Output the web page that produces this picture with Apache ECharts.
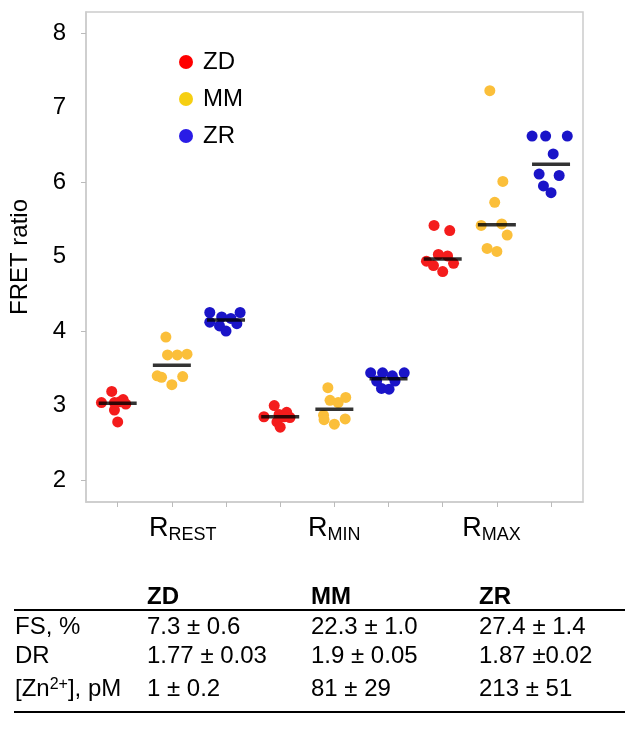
<!DOCTYPE html>
<html>
<head>
<meta charset="utf-8">
<script src="https://cdn.jsdelivr.net/npm/echarts@6/dist/echarts.min.js"></script>
<style>html,body{margin:0;padding:0;background:#fff}#c{width:638px;height:749px}</style>
</head>
<body>
<div id="c"></div>
<script>
// ---- data ----
const seriesNames = ['ZD', 'MM', 'ZR'];
const conditions = ['REST', 'MIN', 'MAX'];
const conditionLabelAt = [1.2, 4, 6.9];
const yTicks = [2, 3, 4, 5, 6, 7, 8];

// values per condition (REST, MIN, MAX) and horizontal jitter (in slot units)
const zdRest = [3.04, 3.19, 3.04, 3.08, 3.02, 2.94, 2.78, 3.05];
const zdRestJit = [-0.30, -0.11, -0.06, 0.10, 0.15, -0.06, 0, 0.04];
const zdMin = [2.85, 3.00, 2.88, 2.91, 2.84, 2.78, 2.71, 2.85];
const zdMinJit = [-0.30, -0.11, -0.02, 0.12, 0.18, -0.06, 0, 0.07];
const zdMax = [5.42, 5.35, 5.03, 5.01, 4.94, 4.88, 4.91, 4.80];
const zdMaxJit = [-0.16, 0.13, -0.08, 0.09, -0.30, -0.17, 0.20, 0];

const mmRest = [3.92, 3.68, 3.68, 3.69, 3.40, 3.38, 3.28, 3.39];
const mmRestJit = [-0.11, -0.08, 0.10, 0.28, -0.27, -0.19, 0, 0.20];
const mmMin = [3.24, 3.07, 3.04, 3.11, 2.87, 2.81, 2.75, 2.82];
const mmMinJit = [-0.12, -0.08, 0.07, 0.21, -0.20, -0.19, 0, 0.20];
const mmMax = [7.23, 6.01, 5.73, 5.42, 5.44, 5.29, 5.11, 5.07];
const mmMaxJit = [-0.13, 0.11, -0.04, -0.29, 0.09, 0.19, -0.18, 0];

const zrRest = [4.25, 4.19, 4.17, 4.25, 4.12, 4.07, 4.10, 4.00];
const zrRestJit = [-0.30, -0.08, 0.09, 0.26, -0.30, -0.12, 0.20, 0];
const zrMin = [3.44, 3.44, 3.40, 3.44, 3.33, 3.33, 3.23, 3.22];
const zrMinJit = [-0.33, -0.11, 0.07, 0.29, -0.22, 0.12, -0.13, 0.01];
const zrMax = [6.62, 6.62, 6.62, 6.38, 6.11, 6.09, 5.95, 5.86];
const zrMaxJit = [-0.35, -0.10, 0.30, 0.04, -0.22, 0.15, -0.14, 0];

// median lines (REST, MIN, MAX)
const zdMedian = [3.03, 2.85, 4.97];
const mmMedian = [3.54, 2.95, 5.43];
const zrMedian = [4.15, 3.36, 6.24];

// table
const tableHeader = ['ZD', 'MM', 'ZR'];
const rowLabels = ['FS, %', 'DR', '[Zn{sup|2+}], pM'];
const rowFS = ['7.3 ± 0.6', '22.3 ± 1.0', '27.4 ± 1.4'];
const rowDR = ['1.77 ± 0.03', '1.9 ± 0.05', '1.87 ±0.02'];
const rowZn = ['1 ± 0.2', '81 ± 29', '213 ± 51'];

// ---- build ----
const FONT = '"Liberation Sans", Arial, Helvetica, sans-serif';
const pointColors = ['#f41c1c', '#fbbf3a', '#1a14c8'];
const legendColors = ['#ff0000', '#f6cf12', '#2a1ce6'];

const groups = [
  [[zdRest, zdRestJit], [zdMin, zdMinJit], [zdMax, zdMaxJit]],
  [[mmRest, mmRestJit], [mmMin, mmMinJit], [mmMax, mmMaxJit]],
  [[zrRest, zrRestJit], [zrMin, zrMinJit], [zrMax, zrMaxJit]]
];
const medians = [zdMedian, mmMedian, zrMedian];

function slot(c, s) { return c * 3 + s; }

const series = [];
seriesNames.forEach((name, s) => {
  const data = [];
  groups[s].forEach((g, c) => {
    g[0].forEach((v, i) => data.push([slot(c, s) + g[1][i], v]));
  });
  series.push({
    name: name, type: 'scatter', data: data, symbol: 'circle', symbolSize: 11,
    itemStyle: { color: pointColors[s], opacity: 1 }, z: 2
  });
});
const medData = [];
medians.forEach((m, s) => m.forEach((v, c) => medData.push([slot(c, s), v])));
series.push({
  name: 'median', type: 'scatter', data: medData, symbol: 'rect', symbolSize: [38, 3.5],
  itemStyle: { color: '#000' }, z: 5, silent: true
});

const chart = echarts.init(document.getElementById('c'), null, { renderer: 'canvas' });

const colX = [147, 311, 479];
const headerY = 598;
const rowY = [628, 657, 690];
const TFS = 24;
const graphic = [];
tableHeader.forEach((h, i) => graphic.push({
  type: 'text', left: colX[i], top: headerY - 13,
  style: { text: h, font: 'bold ' + TFS + 'px ' + FONT, fill: '#000' }
}));
const rows = [rowFS, rowDR, rowZn];
rowLabels.forEach((lab, r) => {
  graphic.push({
    type: 'text', left: 15, top: rowY[r] - 13,
    style: {
      text: lab, font: TFS + 'px ' + FONT, fill: '#000',
      rich: { sup: { fontSize: 16, fontFamily: FONT, verticalAlign: 'top', padding: [0, 0, 8, 0] } }
    }
  });
  rows[r].forEach((v, i) => graphic.push({
    type: 'text', left: colX[i], top: rowY[r] - 13,
    style: { text: v, font: TFS + 'px ' + FONT, fill: '#000' }
  }));
});
graphic.push({ type: 'line', shape: { x1: 14, y1: 610, x2: 625, y2: 610 }, style: { stroke: '#000', lineWidth: 2 } });
graphic.push({ type: 'line', shape: { x1: 14, y1: 712, x2: 625, y2: 712 }, style: { stroke: '#000', lineWidth: 2 } });

chart.setOption({
  animation: false,
  backgroundColor: '#fff',
  grid: { left: 86, top: 12, width: 497, height: 490, show: true, borderColor: '#cccccc', borderWidth: 1.5, backgroundColor: 'transparent' },
  legend: {
    orient: 'vertical', left: 174, top: 45, itemWidth: 14, itemHeight: 14, itemGap: 13,
    icon: 'circle', selectedMode: false,
    textStyle: { fontSize: 24, fontFamily: FONT, color: '#000', padding: [0, 0, 0, 5] },
    data: seriesNames.map((n, i) => ({ name: n, itemStyle: { color: legendColors[i] } }))
  },
  xAxis: {
    type: 'value', min: -0.585, max: 8.59,
    splitLine: { show: false },
    axisLine: { show: true, onZero: false, lineStyle: { color: '#cccccc', width: 1.5 } },
    axisTick: { show: true, length: 5, lineStyle: { color: '#bbbbbb' }, customValues: [0, 1, 2, 3, 4, 5, 6, 7, 8] },
    axisLabel: {
      margin: 11, color: '#000',
      customValues: conditionLabelAt,
      formatter: v => '{r|R}{s|' + conditions[conditionLabelAt.indexOf(v)] + '}',
      rich: {
        r: { fontSize: 27, fontFamily: FONT, color: '#000', lineHeight: 32 },
        s: { fontSize: 18, fontFamily: FONT, color: '#000', lineHeight: 32, padding: [13, 0, 0, 0] }
      }
    }
  },
  yAxis: {
    type: 'value', min: 1.705, max: 8.286,
    splitLine: { show: false },
    name: 'FRET ratio', nameLocation: 'middle', nameGap: 54, nameRotate: 90,
    nameTextStyle: { fontSize: 24, fontFamily: FONT, color: '#000' },
    axisLine: { show: true, onZero: false, lineStyle: { color: '#cccccc', width: 1.5 } },
    axisTick: { show: true, length: 5, lineStyle: { color: '#bbbbbb' }, customValues: [2, 4, 6, 8] },
    axisLabel: { margin: 20, fontSize: 24, fontFamily: FONT, color: '#000', customValues: yTicks }
  },
  series: series,
  graphic: graphic
});
</script>
</body>
</html>
